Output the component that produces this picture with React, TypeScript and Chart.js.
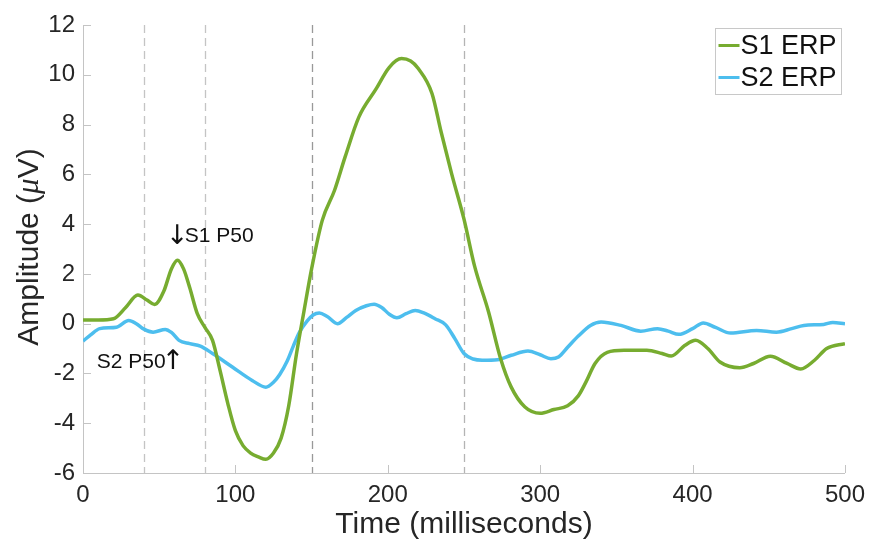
import React, { useEffect, useRef } from "react";
import { Chart, registerables } from "chart.js";

Chart.register(...registerables);

// ---------- data ----------
const s1Times = [0, 10, 20, 28, 36, 42, 47, 53, 58, 62, 66, 70, 75, 80, 85, 90, 95, 100, 105, 110, 115, 120, 125, 130, 135, 140, 145, 150, 157, 165, 172, 181, 192, 201, 209, 215, 220, 229, 235, 242, 250, 257, 266, 274, 281, 290, 300, 309, 318, 325, 330, 336, 344, 355, 370, 380, 386, 395, 402, 410, 418, 431, 440, 451, 462, 471, 480, 488, 500];
const s1Values = [0.15, 0.15, 0.2, 0.65, 1.15, 0.95, 0.77, 1.3, 2.2, 2.55, 2.2, 1.45, 0.4, -0.15, -0.67, -1.9, -3.2, -4.3, -4.9, -5.2, -5.35, -5.45, -5.2, -4.6, -3.3, -1.25, 0.5, 2.2, 4.15, 5.35, 6.7, 8.3, 9.4, 10.3, 10.65, 10.55, 10.25, 9.25, 7.7, 6.0, 4.2, 2.3, 0.5, -1.4, -2.55, -3.35, -3.6, -3.45, -3.3, -2.9, -2.35, -1.6, -1.15, -1.07, -1.07, -1.2, -1.3, -0.87, -0.67, -1.0, -1.54, -1.77, -1.6, -1.31, -1.6, -1.82, -1.47, -1.0, -0.8];

const s2Times = [0, 5, 11, 22, 30, 35, 40, 46, 54, 58, 63, 70, 77, 85, 98, 111, 120, 125, 129, 134, 138, 142, 147, 151, 155, 160, 167, 173, 179, 186, 191, 196, 201, 206, 212, 218, 224, 231, 238, 244, 250, 256, 262, 272, 281, 292, 300, 307, 312, 318, 325, 333, 340, 353, 366, 377, 384, 391, 400, 407, 415, 425, 442, 455, 465, 473, 486, 492, 500];
const s2Values = [-0.7, -0.45, -0.2, -0.14, 0.13, 0.0, -0.22, -0.34, -0.23, -0.35, -0.67, -0.8, -0.9, -1.2, -1.74, -2.28, -2.55, -2.35, -2.05, -1.5, -0.9, -0.35, 0.1, 0.35, 0.43, 0.3, 0.0, 0.25, 0.53, 0.72, 0.78, 0.65, 0.38, 0.24, 0.4, 0.53, 0.42, 0.2, -0.05, -0.6, -1.2, -1.42, -1.47, -1.45, -1.27, -1.1, -1.25, -1.41, -1.34, -0.95, -0.5, -0.07, 0.07, -0.07, -0.3, -0.2, -0.3, -0.43, -0.2, 0.03, -0.15, -0.38, -0.27, -0.34, -0.2, -0.07, -0.03, 0.05, 0.0];

const seriesLabels = ["S1 ERP", "S2 ERP"];
const seriesColors = ["#77AC30", "#4DBEEE"];
const markerTimes = [40, 80, 150, 250];
const markerColors = ["#c4c4c4", "#c4c4c4", "#999999", "#b4b4b4"];
// each annotation: text pieces (arrow / label), anchor in data coords
const annotations = [
  { parts: ["\u2193", "S1 P50"], x: 54.5, y: 3.5, align: "left" },
  { parts: ["S2 P50", "\u2191"], x: 66.5, y: -1.55, align: "right" },
];
const xTitle = "Time (milliseconds)";
const yTitleParts = ["Amplitude (", "\u03bc", "V)"];

const FONT = '"Liberation Sans", Arial, sans-serif';
const TEXT = "#262626";
const AXIS = "#c4c4c4";

const decorPlugin = {
  id: "decor",
  beforeDatasetsDraw(chart: any) {
    const { ctx, chartArea, scales } = chart;
    ctx.save();
    ctx.lineWidth = 1.3;
    ctx.setLineDash([8, 5]);
    markerTimes.forEach((t, i) => {
      const x = Math.round(scales.x.getPixelForValue(t)) + 0.5;
      ctx.strokeStyle = markerColors[i];
      ctx.beginPath();
      ctx.moveTo(x, chartArea.top);
      ctx.lineTo(x, chartArea.bottom);
      ctx.stroke();
    });
    ctx.restore();
  },
  afterDraw(chart: any) {
    const { ctx, chartArea, scales } = chart;
    ctx.save();
    // inward tick marks
    ctx.strokeStyle = AXIS;
    ctx.lineWidth = 1;
    scales.x.ticks.forEach((tk: any) => {
      const x = Math.round(scales.x.getPixelForValue(tk.value)) + 0.5;
      ctx.beginPath();
      ctx.moveTo(x, chartArea.bottom);
      ctx.lineTo(x, chartArea.bottom - 8);
      ctx.stroke();
    });
    scales.y.ticks.forEach((tk: any) => {
      const y = Math.round(scales.y.getPixelForValue(tk.value)) + 0.5;
      ctx.beginPath();
      ctx.moveTo(chartArea.left, y);
      ctx.lineTo(chartArea.left + 8, y);
      ctx.stroke();
    });

    // annotations
    ctx.fillStyle = "#111";
    ctx.textBaseline = "middle";
    ctx.textAlign = "left";
    const isArrow = (p: string) => p === "\u2193" || p === "\u2191";
    const pieceFont = (p: string) => (isArrow(p) ? `27px "DejaVu Sans", sans-serif` : `21px ${FONT}`);
    const gap = -4;
    annotations.forEach((a) => {
      const ws = a.parts.map((p) => {
        ctx.font = pieceFont(p);
        return ctx.measureText(p).width;
      });
      const total = ws.reduce((s, w) => s + w, 0) + gap * (a.parts.length - 1);
      let px = scales.x.getPixelForValue(a.x);
      if (a.align === "right") px -= total;
      const py = scales.y.getPixelForValue(a.y);
      a.parts.forEach((p, i) => {
        ctx.font = pieceFont(p);
        ctx.fillText(p, px, py);
        px += ws[i] + gap;
      });
    });

    // legend
    const bw = 126, bh = 66;
    const bx = Math.round(chartArea.right - 4 - bw) + 0.5;
    const by = Math.round(chartArea.top + 3) + 0.5;
    ctx.fillStyle = "#ffffff";
    ctx.fillRect(bx, by, bw, bh);
    ctx.strokeStyle = "#c8c8c8";
    ctx.lineWidth = 1;
    ctx.strokeRect(bx, by, bw, bh);
    ctx.font = `27px ${FONT}`;
    ctx.textAlign = "left";
    chart.data.datasets.forEach((ds: any, i: number) => {
      const cy = by + 17 + i * 32;
      ctx.strokeStyle = ds.borderColor;
      ctx.lineWidth = 3;
      ctx.beginPath();
      ctx.moveTo(bx + 3, cy);
      ctx.lineTo(bx + 24, cy);
      ctx.stroke();
      ctx.fillStyle = "#111";
      ctx.fillText(ds.label, bx + 25, cy + 1);
    });

    // y title with italic mu
    const cx = 30;
    const cyT = (chartArea.top + chartArea.bottom) / 2 - 2;
    const fonts = [`30px ${FONT}`, `italic 31px "Liberation Serif", serif`, `30px ${FONT}`];
    let total = 0;
    const widths = yTitleParts.map((p, i) => {
      ctx.font = fonts[i];
      const w = ctx.measureText(p).width;
      total += w;
      return w;
    });
    ctx.translate(cx, cyT);
    ctx.rotate(-Math.PI / 2);
    ctx.fillStyle = TEXT;
    ctx.textBaseline = "middle";
    ctx.textAlign = "left";
    let px = -total / 2;
    yTitleParts.forEach((p, i) => {
      ctx.font = fonts[i];
      ctx.fillText(p, px, 0);
      px += widths[i];
    });
    ctx.restore();
  },
};

export default function App() {
  const ref = useRef<HTMLCanvasElement>(null);
  useEffect(() => {
    document.body.style.margin = "0";
    const canvas = ref.current!;
    const mk = (ts: number[], vs: number[]) => ts.map((t, i) => ({ x: t, y: vs[i] }));
    const chart = new Chart(canvas, {
      type: "line",
      data: {
        datasets: [
          {
            label: seriesLabels[0],
            data: mk(s1Times, s1Values),
            borderColor: seriesColors[0],
            borderWidth: 3.5,
            pointRadius: 0,
            cubicInterpolationMode: "monotone",
            fill: false,
          },
          {
            label: seriesLabels[1],
            data: mk(s2Times, s2Values),
            borderColor: seriesColors[1],
            borderWidth: 3.5,
            pointRadius: 0,
            cubicInterpolationMode: "monotone",
            fill: false,
          },
        ],
      },
      options: {
        animation: false,
        responsive: false,
        events: [],
        layout: { padding: { top: 25, right: 26, left: 0, bottom: 0 } },
        plugins: { legend: { display: false }, tooltip: { enabled: false } },
        scales: {
          x: {
            type: "linear",
            min: 0,
            max: 500,
            grid: { display: false, drawTicks: false },
            border: { display: true, color: AXIS, width: 1 },
            ticks: { stepSize: 100, font: { size: 24, family: FONT }, color: TEXT, padding: 8, maxRotation: 0 },
            title: { display: true, text: xTitle, font: { size: 30, family: FONT }, color: TEXT, padding: { top: 0, bottom: 4 } },
            afterFit: (s: any) => { s.height = 74; },
          },
          y: {
            type: "linear",
            min: -6,
            max: 12,
            grid: { display: false, drawTicks: false },
            border: { display: true, color: AXIS, width: 1 },
            ticks: { stepSize: 2, font: { size: 24, family: FONT }, color: TEXT, padding: 8 },
            afterFit: (s: any) => { s.width = 83; },
          },
        },
      },
      plugins: [decorPlugin],
    } as any);
    return () => chart.destroy();
  }, []);
  return (
    <div style={{ position: "fixed", left: 0, top: 0, width: 873, height: 547 }}>
      <canvas ref={ref} width={873} height={547} />
    </div>
  );
}
